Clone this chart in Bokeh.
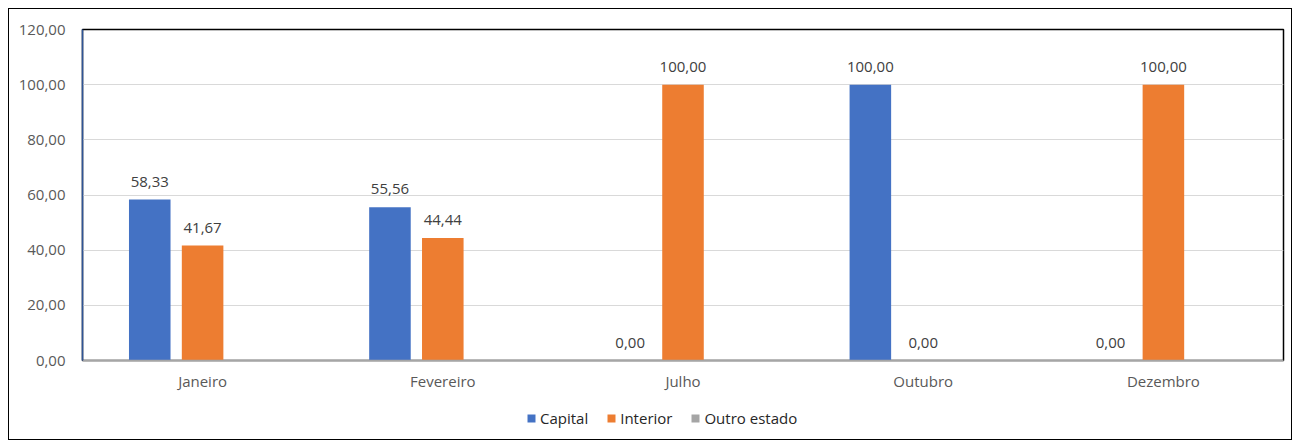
from bokeh.plotting import figure
from bokeh.layouts import column
from bokeh.models import (ColumnDataSource, FactorRange, Range1d, LabelSet, Legend, LegendItem,
                          CustomJSTickFormatter, FixedTicker)
from bokeh.transform import dodge
from bokeh.core.properties import value
from bokeh.embed import file_html
from bokeh.resources import INLINE

months = ["Janeiro", "Fevereiro", "Julho", "Outubro", "Dezembro"]
capital = [58.33, 55.56, 0.0, 100.0, 0.0]
interior = [41.67, 44.44, 100.0, 0.0, 100.0]
outro = [0.0, 0.0, 0.0, 0.0, 0.0]
series = ["Capital", "Interior", "Outro estado"]
colors = ["#4472C4", "#ED7D31", "#A5A5A5"]
y_ticks = [0, 20, 40, 60, 80, 100, 120]

FONT = "Open Sans"
LBL = "#595959"

def fmt(v):
    return f"{v:.2f}".replace(".", ",")

src = ColumnDataSource(dict(
    month=months, capital=capital, interior=interior, outro=outro,
    cap_lbl=[fmt(v) for v in capital], int_lbl=[fmt(v) for v in interior],
))

p = figure(x_range=FactorRange(*months), y_range=Range1d(0, 120),
           width=1282, height=392, output_backend="svg", toolbar_location=None,
           min_border_left=73, min_border_right=8, min_border_top=20, min_border_bottom=41)
p.x_range.range_padding = 0

off = 0.22
w = 0.173
r_cap = p.vbar(x=dodge("month", -off, range=p.x_range), top="capital", width=w, source=src,
               color=colors[0], line_color=None)
r_int = p.vbar(x=dodge("month", 0, range=p.x_range), top="interior", width=w, source=src,
               color=colors[1], line_color=None)
r_out = p.vbar(x=dodge("month", off, range=p.x_range), top="outro", width=w, source=src,
               color=colors[2], line_color=None)

for xo, col, lc in [(-off, "capital", "cap_lbl"), (0, "interior", "int_lbl")]:
    ls = LabelSet(x=dodge("month", xo, range=p.x_range), y=col, text=lc, source=src,
                  text_align="center", text_baseline="alphabetic", y_offset=13,
                  text_font=value(FONT), text_font_size="15px", text_color="#404040")
    p.add_layout(ls)

p.outline_line_color = "black"
p.outline_line_width = 1.5

p.yaxis.ticker = FixedTicker(ticks=y_ticks)
p.yaxis.formatter = CustomJSTickFormatter(code="return tick.toFixed(2).replace('.', ',');")
p.yaxis.major_tick_line_color = None
p.yaxis.minor_tick_line_color = None
p.yaxis.axis_line_color = "#2F5597"
p.yaxis.axis_line_width = 1.5
p.yaxis.major_label_standoff = 11
p.yaxis.major_label_text_font = FONT
p.yaxis.major_label_text_font_size = "15px"
p.yaxis.major_label_text_color = LBL

p.xaxis.major_tick_line_color = None
p.xaxis.minor_tick_line_color = None
p.xaxis.axis_line_color = "#A6A6A6"
p.xaxis.axis_line_width = 1.5
p.xaxis.major_label_standoff = 4
p.xaxis.major_label_text_font = FONT
p.xaxis.major_label_text_font_size = "15px"
p.xaxis.major_label_text_color = LBL

p.xgrid.grid_line_color = None
p.ygrid.grid_line_color = "#D9D9D9"
p.ygrid.grid_line_width = 1

# legend strip
lg = figure(width=1282, height=38, x_range=Range1d(0, 1), y_range=Range1d(0, 1),
            output_backend="svg", toolbar_location=None,
            min_border=0, min_border_left=0, min_border_right=0, min_border_top=0, min_border_bottom=0)
lg.axis.visible = False
lg.grid.visible = False
lg.outline_line_color = None
items = []
for name, c in zip(series, colors):
    r = lg.vbar(x=[-10], top=[0], width=0.1, color=c, line_color=None)
    items.append(LegendItem(label=name, renderers=[r]))
legend = Legend(items=items, orientation="horizontal", location=(444, 11),
                padding=0, margin=0, spacing=18, label_standoff=4,
                glyph_width=10, glyph_height=10, label_height=20,
                label_text_font=FONT, label_text_font_size="15px", label_text_color="#262626",
                border_line_color=None, background_fill_alpha=0)
lg.add_layout(legend, "center")

layout = column(p, lg, spacing=0)
layout.styles = {"border": "1px solid black", "margin-left": "8px", "margin-top": "8px"}

open("out.html", "w").write(file_html(layout, INLINE))
